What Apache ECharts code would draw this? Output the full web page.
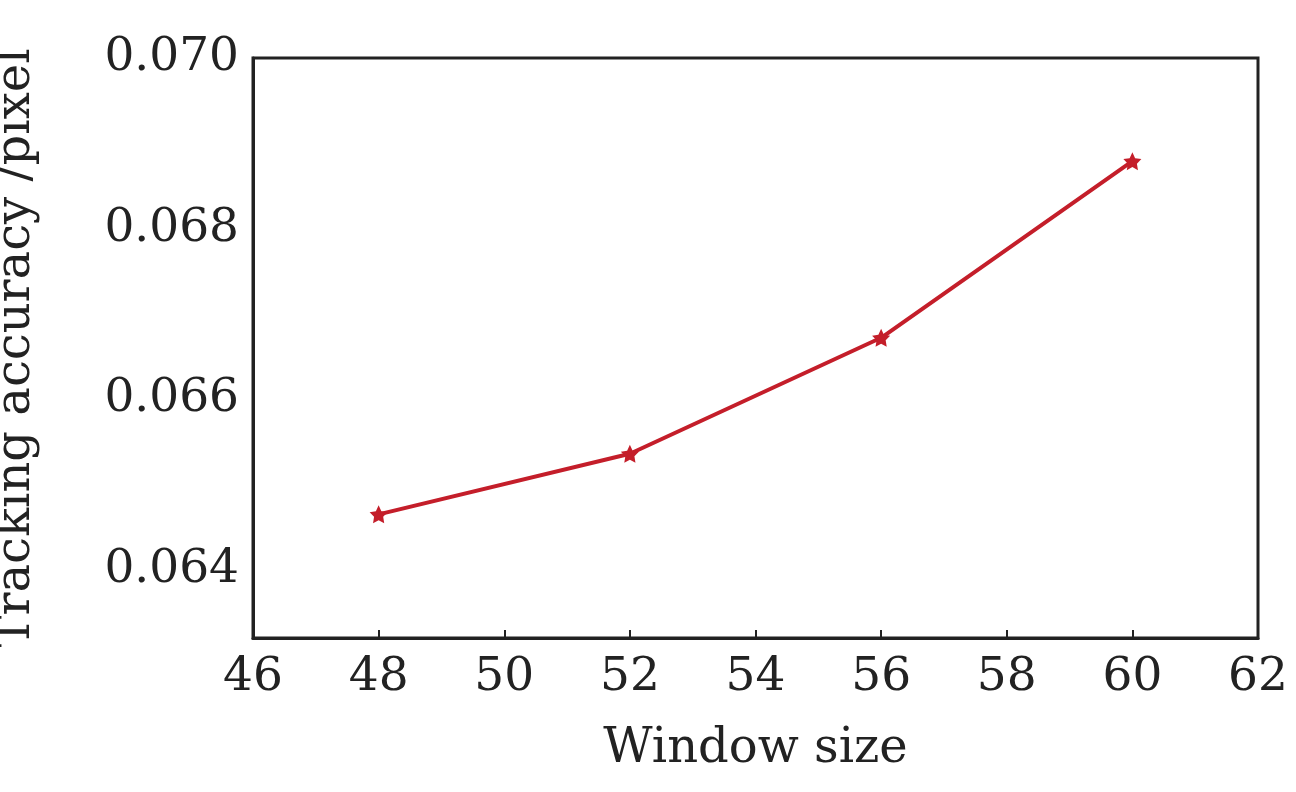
<!DOCTYPE html>
<html>
<head>
<meta charset="utf-8">
<script src="https://cdn.jsdelivr.net/npm/echarts@6/dist/echarts.min.js"></script>
<style>html,body{margin:0;padding:0;background:#fff}#chart{width:1296px;height:792px}</style>
</head>
<body>
<div id="chart"></div>
<script>
// data
var windowSize = [48, 52, 56, 60];
var accuracy = [0.06465, 0.06536, 0.06672, 0.06879];

var font = '"DejaVu Serif", "Liberation Serif", serif';
var chart = echarts.init(document.getElementById('chart'));
var points = [];
for (var i = 0; i < windowSize.length; i++) {
	points.push([windowSize[i], accuracy[i]]);
}
chart.setOption({
	animation: false,
	grid: {
		left: 253, right: 38, top: 58, bottom: 154,
		containLabel: false, outerBoundsMode: 'none',
		show: true, borderColor: '#222', borderWidth: 3
	},
	xAxis: {
		type: 'value', min: 46, max: 62, interval: 2,
		name: 'Window size', nameLocation: 'middle', nameGap: 88,
		nameTextStyle: { fontFamily: font, fontSize: 48, color: '#222' },
		axisLine: { lineStyle: { color: '#222', width: 3 } },
		axisTick: { inside: true, length: 8, lineStyle: { color: '#222', width: 2 } },
		axisLabel: { fontFamily: font, fontSize: 47, color: '#222', margin: 16 },
		splitLine: { show: false }
	},
	yAxis: {
		type: 'value', min: 0.0632, max: 0.070, interval: 0.0004,
		name: 'Tracking accuracy /pixel', nameLocation: 'middle', nameGap: 212,
		nameTextStyle: { fontFamily: font, fontSize: 48, color: '#222' },
		axisLine: { lineStyle: { color: '#222', width: 3 } },
		axisTick: { show: false },
		axisLabel: {
			fontFamily: font, fontSize: 47, color: '#222', margin: 14,
			formatter: function(v) {
				var k = Math.round(v * 10000);
				if (k % 20 !== 0) return '';
				return (k / 10000).toFixed(3);
			}
		},
		splitLine: { show: false }
	},
	series: [{
		type: 'line',
		data: points,
		symbol: 'path://M0,-10 L2.9,-4 L9.5,-3.1 L4.8,1.5 L5.9,8.1 L0,5 L-5.9,8.1 L-4.8,1.5 L-9.5,-3.1 L-2.9,-4 Z',
		symbolSize: 18,
		itemStyle: { color: '#c41e2a' },
		lineStyle: { color: '#c41e2a', width: 4 }
	}]
});
</script>
</body>
</html>
